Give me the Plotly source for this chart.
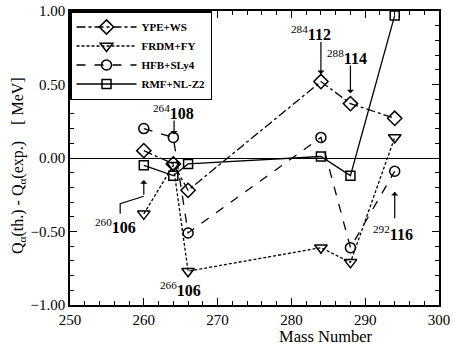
import plotly.graph_objects as go

mass = [260, 264, 266, 284, 288, 294]
ype_ws = [0.05, -0.04, -0.22, 0.52, 0.37, 0.27]
frdm_fy = [-0.38, -0.05, -0.77, -0.61, -0.71, 0.14]
hfb_sly4 = [0.20, 0.14, -0.51, 0.14, -0.61, -0.09]
rmf_nlz2 = [-0.05, -0.12, -0.04, 0.01, -0.12, 0.97]

series = [
    ("YPE+WS", ype_ws, "diamond-open", "dashdot", 11),
    ("FRDM+FY", frdm_fy, "triangle-down-open", "3px,2px", 11),
    ("HFB+SLy4", hfb_sly4, "circle-open", "dash", 10),
    ("RMF+NL-Z2", rmf_nlz2, "square-open", "solid", 9),
]

FONT = "Liberation Serif"
fig = go.Figure()
for name, vals, sym, dash, sz in series:
    fig.add_trace(go.Scatter(
        x=mass, y=vals, name=name, mode="lines+markers",
        line=dict(color="black", width=1.3, dash=dash),
        marker=dict(symbol=sym, size=sz, color="black", line=dict(width=1.5, color="black")),
    ))

# labels
labels = [
    ("<sup>264</sup><b>108</b>", 264.0, 0.31),
    ("<sup>284</sup><b>112</b>", 282.6, 0.85),
    ("<sup>288</sup><b>114</b>", 287.5, 0.69),
    ("<sup>260</sup><b>106</b>", 256.1, -0.46),
    ("<sup>266</sup><b>106</b>", 265.0, -0.89),
    ("<sup>292</sup><b>116</b>", 293.7, -0.51),
]
for txt, lx, ly in labels:
    fig.add_annotation(x=lx, y=ly, text=txt, showarrow=False,
                       font=dict(family=FONT, size=16, color="black"))

arrows = [
    (264.1, 0.265, 264.1, 0.16),
    (284.0, 0.80, 284.0, 0.57),
    (288.0, 0.64, 288.0, 0.44),
    (260.0, -0.26, 260.0, -0.15),
    (294.0, -0.42, 294.0, -0.23),
]
for ax_, ay_, x_, y_ in arrows:
    fig.add_annotation(x=x_, y=y_, ax=ax_, ay=ay_, xref="x", yref="y", axref="x", ayref="y",
                       text="", showarrow=True, arrowhead=1, arrowsize=1, arrowwidth=1.2,
                       arrowcolor="black")

fig.add_shape(type="path", path="M 256.8 -0.38 L 256.8 -0.31 L 260 -0.26",
              xref="x", yref="y", line=dict(color="black", width=1.2))

# axis titles
fig.add_annotation(text="Mass Number", xref="paper", yref="paper", x=0.694, y=0,
                   xanchor="center", yanchor="middle", yshift=-31, showarrow=False,
                   font=dict(family=FONT, size=16.5, color="black"))
fig.add_annotation(text="Q<sub>α</sub>(th.) - Q<sub>α</sub>(exp.)    [ MeV]",
                   xref="paper", yref="paper", x=0, y=0.473, xanchor="center",
                   yanchor="middle", xshift=-51, textangle=-90, showarrow=False,
                   font=dict(family=FONT, size=16, color="black"))

axis_common = dict(
    showline=True, linecolor="black", linewidth=1.5, mirror=True,
    ticks="inside", tickcolor="black", ticklen=7, tickwidth=1.2,
    showgrid=False, tickfont=dict(family=FONT, size=15, color="black"),
    automargin=False,
)
xminor = dict(dtick=2, ticks="inside", ticklen=4, tickcolor="black", tickwidth=1)
yminor = dict(dtick=0.1, ticks="inside", ticklen=4, tickcolor="black", tickwidth=1)

fig.update_layout(
    xaxis=dict(range=[250, 300], dtick=10, tick0=250, minor=xminor,
               zeroline=False, **axis_common),
    yaxis=dict(range=[-1, 1], dtick=0.5, tickformat=".2f", minor=yminor,
               zeroline=True, zerolinecolor="black", zerolinewidth=1, **axis_common),
    xaxis2=dict(range=[250, 300], dtick=10, tick0=250, minor=xminor, overlaying="x",
                side="top", anchor="y", showticklabels=False, ticks="inside", ticklen=7,
                tickcolor="black", tickwidth=1.2, showgrid=False, zeroline=False,
                showline=False, automargin=False),
    yaxis2=dict(range=[-1, 1], dtick=0.5, minor=yminor, overlaying="y",
                side="right", anchor="x", showticklabels=False, ticks="inside", ticklen=7,
                tickcolor="black", tickwidth=1.2, showgrid=False, zeroline=False,
                showline=False, automargin=False),
)
# invisible trace to activate the mirror axes
fig.add_trace(go.Scatter(x=[mass[0]], y=[ype_ws[0]], xaxis="x2", yaxis="y2",
                         mode="markers", marker=dict(opacity=0), showlegend=False,
                         hoverinfo="skip"))

fig.update_layout(
    width=453, height=346,
    margin=dict(l=70, r=14, t=11, b=41),
    plot_bgcolor="white", paper_bgcolor="white",
    font=dict(family=FONT, color="black"),
    legend=dict(x=0, y=1, xanchor="left", yanchor="top",
                bordercolor="black", borderwidth=1.5, bgcolor="white",
                font=dict(family=FONT, size=11, color="black", weight="bold"),
                itemwidth=60, tracegroupgap=0),
    showlegend=True,
)

fig.write_html("out.html")
